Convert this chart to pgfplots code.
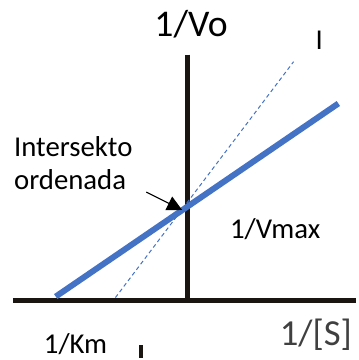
\documentclass[border=0pt]{standalone}
\usepackage{fontspec}
\setmainfont{Carlito}
\usepackage{pgfplots}
\pgfplotsset{compat=1.18}
\usetikzlibrary{arrows.meta}
\definecolor{lineblue}{HTML}{4472C4}
\definecolor{axisdark}{HTML}{1A1510}
\definecolor{labelgray}{HTML}{404040}
\begin{document}
\begin{tikzpicture}
\begin{axis}[
  width=358bp, height=360bp, scale only axis,
  xmin=0, xmax=358, ymin=0, ymax=360, y dir=reverse,
  hide axis, clip=false,
]
% coordinate axes of the double-reciprocal plot
\addplot[axisdark, line width=4.5bp] coordinates {(13,302) (358,302)};
\addplot[axisdark, line width=5bp] coordinates {(188.5,55) (188.5,302)};
% control line (no inhibitor)
\addplot[lineblue, line width=6bp] coordinates {(56,298) (340,104)};
% line with inhibitor
\addplot[lineblue, line width=1bp, dash pattern=on 4bp off 3bp] coordinates {(116,299) (295,62)};
% small stray mark
\addplot[axisdark, line width=3.5bp] coordinates {(141.5,347) (141.5,360)};
% arrow pointing at the y-intercept
\draw[black, line width=1.1bp, -{Triangle[length=15bp,width=15bp]}] (axis cs:147,193) -- (axis cs:183,211);
% labels
\node[anchor=base west, inner sep=0pt, font=\fontsize{38}{42}\selectfont] at (axis cs:155,37) {1/Vo};
\node[anchor=base west, inner sep=0pt, font=\fontsize{29}{32}\selectfont] at (axis cs:317,50) {I};
\node[anchor=base west, inner sep=0pt, font=\fontsize{29}{32}\selectfont] at (axis cs:14,157) {Intersekto};
\node[anchor=base west, inner sep=0pt, font=\fontsize{29}{32}\selectfont] at (axis cs:14,190) {ordenada};
\node[anchor=base west, inner sep=0pt, font=\fontsize{29}{32}\selectfont] at (axis cs:231,240) {1/Vmax};
\node[anchor=base west, inner sep=0pt, font=\fontsize{29}{32}\selectfont] at (axis cs:44,355) {1/Km};
\node[anchor=base west, inner sep=0pt, text=labelgray, font=\fontsize{37}{42}\selectfont] at (axis cs:281,347) {1/[S]};
\path (rel axis cs:0,0) rectangle (rel axis cs:1,1);
\end{axis}
\end{tikzpicture}
\end{document}
